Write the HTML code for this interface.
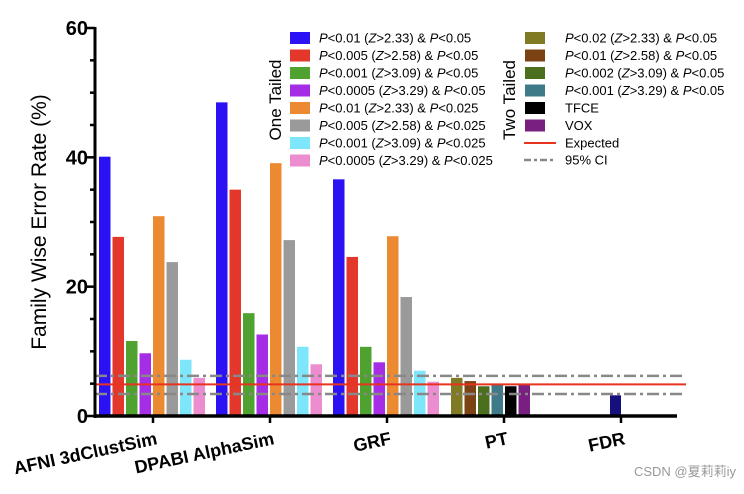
<!DOCTYPE html>
<html><head><meta charset="utf-8"><style>
body{margin:0;background:#fff;width:744px;height:489px;overflow:hidden}
svg{font-family:"Liberation Sans",Arial,sans-serif}
</style></head><body>
<svg id="c" width="744" height="489"></svg>
<script>
const groups=["AFNI 3dClustSim","DPABI AlphaSim","GRF","PT","FDR"];
const oneColors=["#2a12f5","#e2372a","#4fa22f","#a52de6","#ec8a31","#9a9a9a","#7de6fb","#ec8dcf"];
const oneLabels=["P<0.01 (Z>2.33) & P<0.05","P<0.005 (Z>2.58) & P<0.05","P<0.001 (Z>3.09) & P<0.05","P<0.0005 (Z>3.29) & P<0.05","P<0.01 (Z>2.33) & P<0.025","P<0.005 (Z>2.58) & P<0.025","P<0.001 (Z>3.09) & P<0.025","P<0.0005 (Z>3.29) & P<0.025"];
const afniVals=[40.1,27.7,11.6,9.7,30.9,23.8,8.7,5.9];
const dpabiVals=[48.5,35.0,15.9,12.6,39.1,27.2,10.7,8.0];
const grfVals=[36.6,24.6,10.7,8.3,27.8,18.4,7.0,5.3];
const twoColors=["#7f7a23","#7b4314","#4b6e1f","#3e7a87","#000000","#7a1f82"];
const twoLabels=["P<0.02 (Z>2.33) & P<0.05","P<0.01 (Z>2.58) & P<0.05","P<0.002 (Z>3.09) & P<0.05","P<0.001 (Z>3.29) & P<0.05","TFCE","VOX"];
const ptVals=[5.9,5.4,4.6,4.8,4.6,4.9];
const fdrVal=[3.2];
const expected=4.9, ciLow=3.4, ciHigh=6.2;
const yTicks=[0,20,40,60];

const svg=document.getElementById('c');
const NS="http://www.w3.org/2000/svg";
const x0=95,x1=677,yTop=28,yBot=416,ymax=60;
const y=v=>yBot-(v/ymax)*(yBot-yTop);
const tickX=i=>153+i*117;
function mk(t,a,p){const e=document.createElementNS(NS,t);for(const k in a)e.setAttribute(k,a[k]);(p||svg).appendChild(e);return e;}

function barsFor(vals,colors,start,step,w,name){
  vals.forEach((v,i)=>{
    const r=mk('rect',{x:start+i*step,y:y(v),width:w,height:yBot-y(v),fill:colors[i]});
    
    
  });
}
barsFor(afniVals,oneColors,tickX(0)-54,13.5,11.5,'afni');
barsFor(dpabiVals,oneColors,tickX(1)-54,13.5,11.5,'dpabi');
barsFor(grfVals,oneColors,tickX(2)-54,13.5,11.5,'grf');
barsFor(ptVals,twoColors,tickX(3)-53,13.5,11.5,'pt');
barsFor(fdrVal,["#15107e"],tickX(4)-11,13.5,11,'fdr');

let l=mk('line',{x1:x0,x2:686,y1:y(ciHigh),y2:y(ciHigh),stroke:"#888",'stroke-width':2.5,'stroke-dasharray':"12,4,3,4"});

l=mk('line',{x1:x0,x2:686,y1:y(ciLow),y2:y(ciLow),stroke:"#888",'stroke-width':2.5,'stroke-dasharray':"12,4,3,4"});

l=mk('line',{x1:x0,x2:686,y1:y(expected),y2:y(expected),stroke:"#e8331f",'stroke-width':2});


mk('line',{x1:x0,x2:x0,y1:yTop-1,y2:yBot+2,stroke:"#000",'stroke-width':3});
mk('line',{x1:x0-1,x2:x1,y1:yBot,y2:yBot,stroke:"#000",'stroke-width':3.5});
for(let v=0;v<=60;v+=5){const major=v%20===0;mk('line',{x1:x0-(major?8:5),x2:x0,y1:y(v),y2:y(v),stroke:"#000",'stroke-width':2.5});}
yTicks.forEach(v=>{const t=mk('text',{x:88,y:y(v)+7,'text-anchor':'end','font-size':20,'font-weight':'bold'});t.textContent=v;
});
groups.forEach((g,i)=>{
  mk('line',{x1:tickX(i),x2:tickX(i),y1:yBot,y2:yBot+7,stroke:"#000",'stroke-width':2.5});
  const tx=tickX(i)+5, ty=yBot+28;
  const t=mk('text',{x:tx,y:ty,'text-anchor':'end','font-size':18,'font-weight':'bold',transform:`rotate(-12 ${tx} ${ty})`});
  t.textContent=g;
});
let yt=mk('text',{x:46,y:222,'text-anchor':'middle','font-size':21,transform:'rotate(-90 46 222)'});
yt.textContent="Family Wise Error Rate (%)";

function lbl(txt,x,yy){
  const t=mk('text',{x:x,y:yy+4.5,'font-size':13});
  txt.split(/(P|Z)/).forEach(s=>{if(!s)return;const sp=mk('tspan',{},t);if(s==='P'||s==='Z')sp.setAttribute('font-style','italic');sp.textContent=s;});
  return t;
}
oneLabels.forEach((s,i)=>{const cy=38+i*17.5;
  const r=mk('rect',{x:290,y:cy-6,width:20,height:12,fill:oneColors[i]});
  
  const t=lbl(s,319,cy);});
twoLabels.forEach((s,i)=>{const cy=38+i*17.5;
  const r=mk('rect',{x:525,y:cy-6,width:20,height:12,fill:twoColors[i]});
  
  const t=lbl(s,565,cy);});
mk('line',{x1:524,x2:556,y1:143,y2:143,stroke:"#e8331f",'stroke-width':2});
let t=lbl("Expected",565,143);
mk('line',{x1:524,x2:556,y1:160,y2:160,stroke:"#888",'stroke-width':2.5,'stroke-dasharray':"7,3,3,3"});
t=lbl("95% CI",565,160);
t=mk('text',{x:281,y:100,'text-anchor':'middle','font-size':17,transform:'rotate(-90 281 100)'});t.textContent="One Tailed";

t=mk('text',{x:515,y:100,'text-anchor':'middle','font-size':17,transform:'rotate(-90 515 100)'});t.textContent="Two Tailed";

t=mk('text',{x:736,y:476,'text-anchor':'end','font-size':13,fill:'#999','font-family':'"Liberation Sans","Noto Sans CJK SC",sans-serif'});t.textContent="CSDN @夏莉莉iy";

</script>
</body></html>
